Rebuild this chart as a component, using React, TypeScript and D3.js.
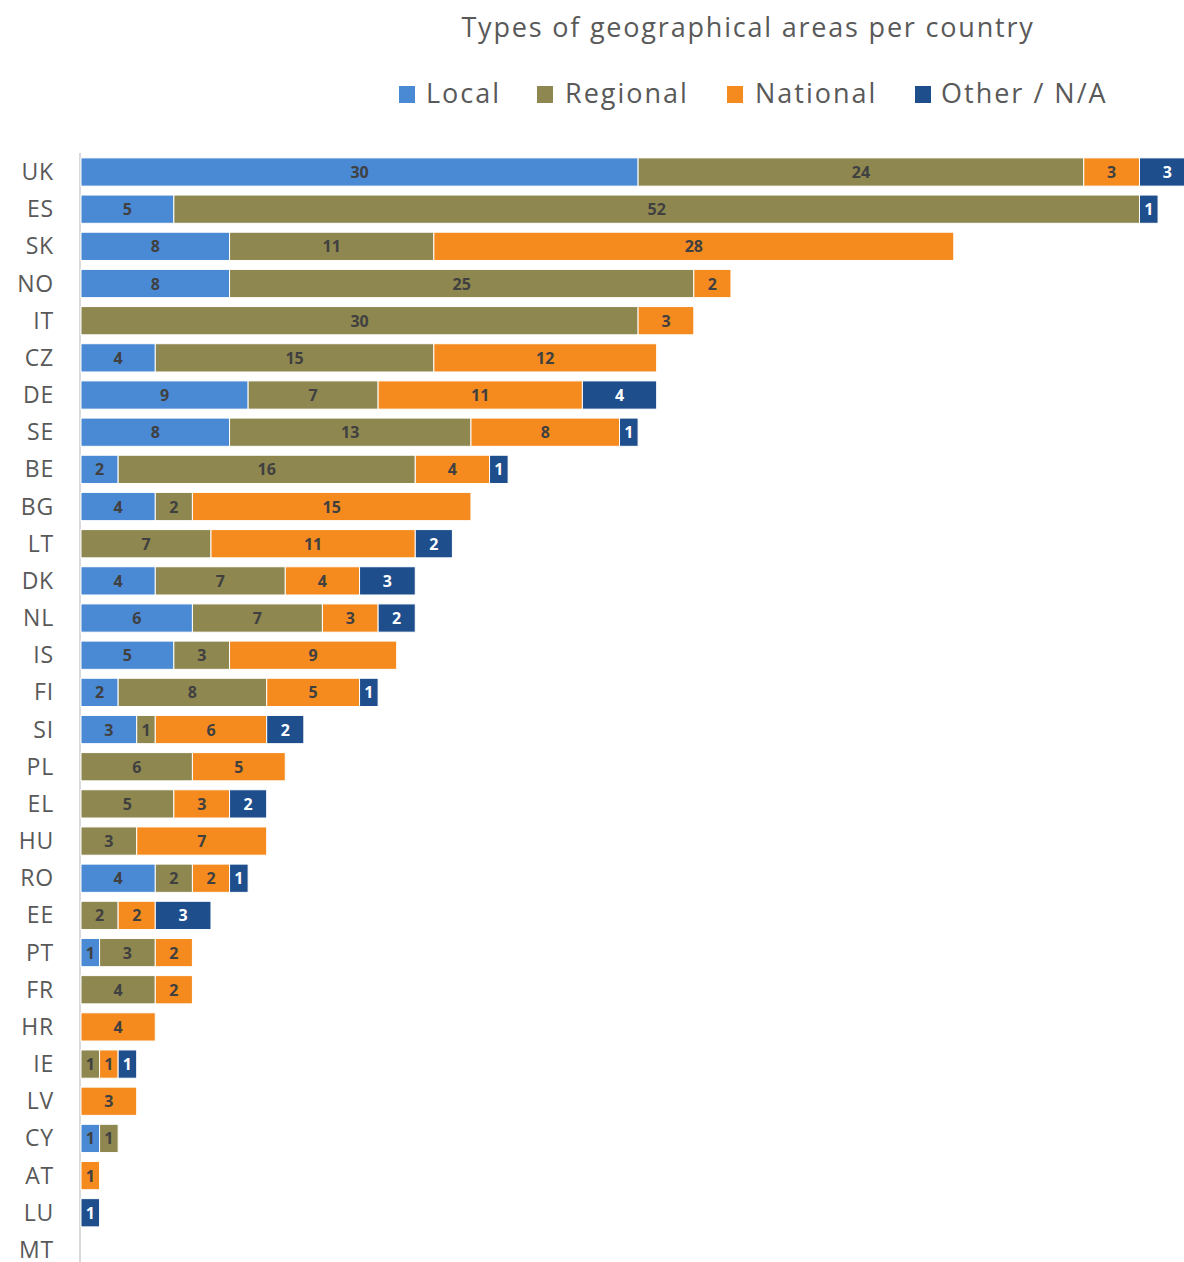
import React from "react";
import * as d3 from "d3";

const countries = ["UK","ES","SK","NO","IT","CZ","DE","SE","BE","BG","LT","DK","NL","IS","FI","SI","PL","EL","HU","RO","EE","PT","FR","HR","IE","LV","CY","AT","LU","MT"];
const local =    [30,5,8,8,0,4,9,8,2,4,0,4,6,5,2,3,0,0,0,4,0,1,0,0,0,0,1,0,0,0];
const regional = [24,52,11,25,30,15,7,13,16,2,7,7,7,3,8,1,6,5,3,2,2,3,4,0,1,0,1,0,0,0];
const national = [3,0,28,2,3,12,11,8,4,15,11,4,3,9,5,6,5,3,7,2,2,2,2,4,1,3,0,1,0,0];
const other =    [3,1,0,0,0,0,4,1,1,0,2,3,2,0,1,2,0,2,0,1,3,0,0,0,1,0,0,0,1,0];

const seriesNames = ["Local","Regional","National","Other / N/A"];
const seriesColors = ["#4a89d4","#8e8750","#f58b1f","#1f4e8d"];
const labelColors = ["#404040","#404040","#404040","#ffffff"];

const W = 1184, H = 1262;
const FONT = "'Open Sans', 'Noto Sans', sans-serif";

export default function App() {
  const rows = countries.map((c, i) => ({ country: c, Local: local[i], Regional: regional[i], National: national[i], "Other / N/A": other[i] }));
  const stack = d3.stack<any>().keys(seriesNames)(rows);
  const x = d3.scaleLinear().domain([0, 60]).range([81, 81 + 60 * 18.57]);
  const step = 37.17;
  const y = d3.scaleBand().domain(countries)
    .range([172 - step / 2, 172 - step / 2 + step * countries.length])
    .paddingInner(0.24).paddingOuter(0.12);
  const bh = y.bandwidth();
  const yc = (c: string) => (y(c) as number) + bh / 2;

  const legendX = [399, 537, 727, 915];
  const legendTextX = [426, 565, 755, 941];

  return (
    <svg width={W} height={H} style={{ position: "absolute", left: 0, top: 0, background: "#fff" }} fontFamily={FONT}>
      <text x={748} y={37} textAnchor="middle" fontSize={27} letterSpacing={1.8} fill="#595959">Types of geographical areas per country</text>
      {seriesNames.map((s, k) => (
        <g key={s}>
          <rect x={legendX[k]} y={86} width={16} height={17} fill={seriesColors[k]} />
          <text x={legendTextX[k]} y={103} fontSize={27} letterSpacing={2} fill="#595959">{s}</text>
        </g>
      ))}
      <line x1={80} x2={80} y1={153} y2={H} stroke="#d9d9d9" strokeWidth={2} />
      {stack.map((layer, k) => (
        <g key={layer.key}>
          {layer.map((d, i) => {
            const v = d[1] - d[0];
            if (v <= 0) return null;
            const x0 = x(d[0]), x1 = x(d[1]);
            const c = countries[i];
            return (
              <g key={i}>
                <rect x={x0} y={y(c)} width={x1 - x0} height={bh} fill={seriesColors[k]} stroke="#ffffff" strokeWidth={1} />
                <text x={(x0 + x1) / 2} y={yc(c) + 6} textAnchor="middle" fontSize={16} fontWeight="bold" fill={labelColors[k]}>{v}</text>
              </g>
            );
          })}
        </g>
      ))}
      {countries.map((c) => (
        <text key={c} x={54} y={yc(c) + 8} textAnchor="end" fontSize={23} letterSpacing={0.8} fill="#595959">{c}</text>
      ))}
    </svg>
  );
}
